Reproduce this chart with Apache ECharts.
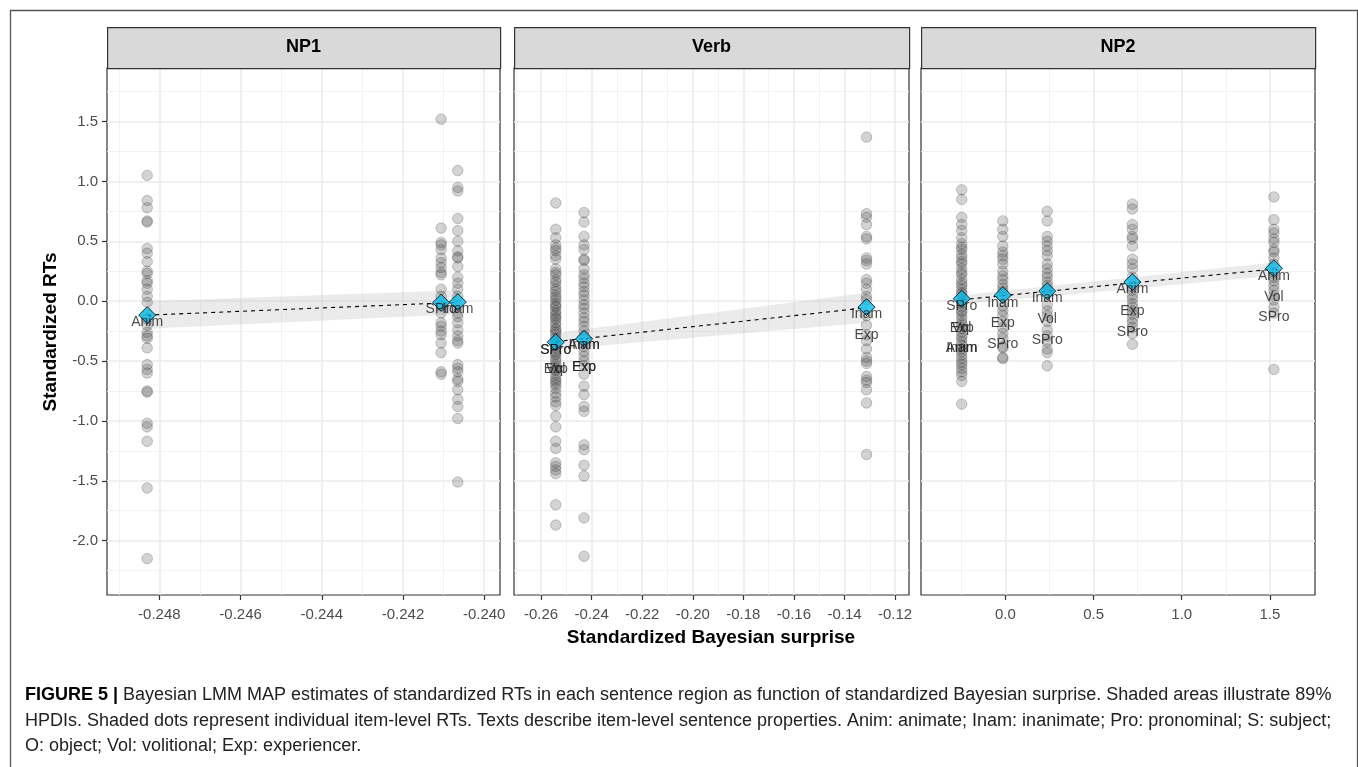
<!DOCTYPE html>
<html>
<head>
<meta charset="utf-8">
<script src="https://cdn.jsdelivr.net/npm/echarts@6/dist/echarts.min.js"></script>
<style>
html, body { margin: 0; padding: 0; background: #fff; }
#main { width: 1358px; height: 767px; }
</style>
</head>
<body>
<div id="main"></div>
<script>
// ---- panel names ----
var panelNames = ['NP1', 'Verb', 'NP2'];

// ---- axis ticks ----
var yTicks = [-2.0, -1.5, -1.0, -0.5, 0.0, 0.5, 1.0, 1.5];
var yMinor = [-2.25, -1.75, -1.25, -0.75, -0.25, 0.25, 0.75, 1.25, 1.75];
var np1XTicks = [-0.248, -0.246, -0.244, -0.242, -0.240];
var np1XMinor = [-0.249, -0.247, -0.245, -0.243, -0.241];
var verbXTicks = [-0.26, -0.24, -0.22, -0.20, -0.18, -0.16, -0.14, -0.12];
var verbXMinor = [-0.27, -0.25, -0.23, -0.21, -0.19, -0.17, -0.15, -0.13];
var np2XTicks = [0.0, 0.5, 1.0, 1.5];
var np2XMinor = [-0.25, 0.25, 0.75, 1.25];

// ---- item-level RTs (x = surprise of the condition, y = standardized RT) ----
var np1X = [-0.2483, -0.24106, -0.24065];
var np1Anim = [1.05, 0.84, 0.78, 0.67, 0.66, 0.44, 0.40, 0.33, 0.25, 0.23, 0.17, 0.15, 0.10, 0.04, -0.01, -0.11, -0.15, -0.20, -0.26, -0.29, -0.31, -0.39, -0.53, -0.57, -0.60, -0.75, -0.76, -1.02, -1.05, -1.17, -1.56, -2.15];
var np1SPro = [1.52, 0.61, 0.49, 0.47, 0.43, 0.36, 0.32, 0.28, 0.24, 0.22, 0.10, 0.04, -0.04, -0.10, -0.18, -0.21, -0.25, -0.28, -0.35, -0.43, -0.59, -0.61];
var np1Inam = [1.09, 0.95, 0.92, 0.69, 0.59, 0.50, 0.42, 0.37, 0.36, 0.29, 0.20, 0.15, 0.10, 0.04, -0.04, -0.10, -0.13, -0.18, -0.24, -0.29, -0.33, -0.35, -0.53, -0.56, -0.59, -0.65, -0.67, -0.74, -0.82, -0.88, -0.98, -1.51];

var verbX = [-0.2542, -0.2430, -0.1313];
var verbC1 = [0.82, 0.60, 0.53, 0.47, 0.44, 0.42, 0.38, 0.35, 0.27, 0.24, 0.22, 0.18, 0.16, 0.13, 0.10, 0.08, 0.05, 0.03, 0.01, -0.02, -0.04, -0.05, -0.08, -0.10, -0.12, -0.14, -0.15, -0.18, -0.20, -0.23, -0.24, -0.26, -0.28, -0.31, -0.33, -0.34, -0.36, -0.39, -0.42, -0.44, -0.45, -0.48, -0.50, -0.53, -0.55, -0.57, -0.58, -0.61, -0.64, -0.66, -0.68, -0.70, -0.73, -0.77, -0.80, -0.84, -0.87, -0.96, -1.05, -1.17, -1.23, -1.35, -1.38, -1.41, -1.44, -1.70, -1.87];
var verbC2 = [0.74, 0.66, 0.54, 0.47, 0.43, 0.35, 0.34, 0.27, 0.22, 0.19, 0.15, 0.12, 0.08, 0.05, 0.01, -0.03, -0.06, -0.10, -0.14, -0.17, -0.21, -0.25, -0.29, -0.38, -0.42, -0.46, -0.50, -0.54, -0.61, -0.71, -0.78, -0.88, -0.92, -1.20, -1.24, -1.37, -1.46, -1.81, -2.13];
var verbC3 = [1.37, 0.73, 0.70, 0.64, 0.54, 0.52, 0.36, 0.34, 0.31, 0.18, 0.15, 0.10, 0.04, 0.01, -0.12, -0.20, -0.28, -0.33, -0.40, -0.47, -0.50, -0.52, -0.63, -0.66, -0.68, -0.74, -0.85, -1.28];

var np2X = [-0.248, -0.015, 0.237, 0.720, 1.523];
var np2C1 = [0.93, 0.85, 0.70, 0.64, 0.59, 0.53, 0.48, 0.45, 0.43, 0.39, 0.36, 0.33, 0.31, 0.27, 0.24, 0.22, 0.18, 0.15, 0.13, 0.10, 0.07, 0.06, 0.03, 0.00, -0.02, -0.05, -0.08, -0.09, -0.12, -0.15, -0.18, -0.20, -0.23, -0.26, -0.29, -0.31, -0.34, -0.37, -0.40, -0.42, -0.45, -0.48, -0.51, -0.53, -0.56, -0.59, -0.62, -0.67, -0.86];
var np2C2 = [0.67, 0.60, 0.54, 0.46, 0.41, 0.38, 0.35, 0.31, 0.25, 0.21, 0.18, 0.14, 0.11, 0.08, 0.04, -0.04, -0.08, -0.12, -0.17, -0.22, -0.27, -0.31, -0.38, -0.39, -0.47, -0.48];
var np2C3 = [0.75, 0.67, 0.54, 0.50, 0.46, 0.42, 0.38, 0.31, 0.27, 0.23, 0.20, 0.16, 0.13, 0.10, 0.06, -0.03, -0.08, -0.12, -0.17, -0.24, -0.29, -0.34, -0.40, -0.43, -0.54];
var np2C4 = [0.81, 0.77, 0.64, 0.60, 0.54, 0.52, 0.46, 0.35, 0.31, 0.27, 0.20, 0.12, 0.09, 0.05, 0.02, -0.02, -0.05, -0.08, -0.11, -0.15, -0.18, -0.22, -0.27, -0.36];
var np2C5 = [0.87, 0.68, 0.60, 0.57, 0.52, 0.49, 0.43, 0.41, 0.36, 0.31, 0.24, 0.20, 0.17, 0.13, 0.09, 0.05, 0.01, -0.05, -0.10, -0.57];

// ---- MAP estimates per condition ----
var np1MeanY = [-0.117, -0.013, -0.008];
var verbMeanY = [-0.343, -0.315, -0.050];
var np2MeanY = [0.020, 0.050, 0.084, 0.159, 0.274];

// ---- fitted line ends [x, y] and 89% HPDI band [x, lo, hi] ----
var np1Fit = [[-0.2483, -0.117], [-0.24065, -0.010]];
var verbFit = [[-0.2542, -0.338], [-0.1313, -0.055]];
var np2Fit = [[-0.248, 0.012], [1.523, 0.268]];
var np1Band = [[-0.2483, -0.230, 0.000], [-0.24065, -0.110, 0.090]];
var verbBand = [[-0.2542, -0.404, -0.265], [-0.1313, -0.180, 0.070]];
var np2Band = [[-0.248, -0.025, 0.050], [1.523, 0.212, 0.322]];

// ---- sentence-property texts [x, y, text] ----
var np1Texts = [[-0.2483, -0.176, 'Anim'], [-0.24106, -0.070, 'SPro'], [-0.24065, -0.065, 'Inam']];
var verbTexts = [
    [-0.2542, -0.410, 'SPro'], [-0.2542, -0.410, 'SPro'], [-0.2542, -0.570, 'Exp'], [-0.2542, -0.570, 'Vol'],
    [-0.2430, -0.370, 'Inam'], [-0.2430, -0.370, 'Anim'], [-0.2430, -0.550, 'Exp'], [-0.2430, -0.550, 'Exp'],
    [-0.1313, -0.105, 'Inam'], [-0.1313, -0.284, 'Exp']
];
var np2Texts = [
    [-0.248, -0.042, 'SPro'], [-0.248, -0.223, 'Exp'], [-0.248, -0.223, 'Vol'], [-0.248, -0.396, 'Anim'], [-0.248, -0.396, 'Inam'],
    [-0.015, -0.013, 'Inam'], [-0.015, -0.187, 'Exp'], [-0.015, -0.357, 'SPro'],
    [0.237, 0.023, 'Inam'], [0.237, -0.153, 'Vol'], [0.237, -0.326, 'SPro'],
    [0.720, 0.098, 'Anim'], [0.720, -0.083, 'Exp'], [0.720, -0.256, 'SPro'],
    [1.523, 0.209, 'Anim'], [1.523, 0.037, 'Vol'], [1.523, -0.134, 'SPro']
];

var FONT = 'Liberation Sans, Arial, sans-serif';

var panels = [
    { left: 107, width: 393, xMin: -0.24929, xMax: -0.23961, ticks: np1XTicks, minor: np1XMinor, dec: 3,
      xs: np1X, ys: [np1Anim, np1SPro, np1Inam], means: np1MeanY, fit: np1Fit, band: np1Band, texts: np1Texts },
    { left: 514, width: 395, xMin: -0.2707, xMax: -0.1145, ticks: verbXTicks, minor: verbXMinor, dec: 2,
      xs: verbX, ys: [verbC1, verbC2, verbC3], means: verbMeanY, fit: verbFit, band: verbBand, texts: verbTexts },
    { left: 921, width: 394, xMin: -0.479, xMax: 1.756, ticks: np2XTicks, minor: np2XMinor, dec: 1,
      xs: np2X, ys: [np2C1, np2C2, np2C3, np2C4, np2C5], means: np2MeanY, fit: np2Fit, band: np2Band, texts: np2Texts }
];
var TOP = 68, HEIGHT = 527, Y_MIN = -2.454, Y_MAX = 1.947;

function bandRenderer(rows) {
    return function (params, api) {
        if (params.dataIndex !== 0) return;
        var upper = rows.map(function (r) { return api.coord([r[0], r[2]]); });
        var lower = rows.map(function (r) { return api.coord([r[0], r[1]]); }).reverse();
        return {
            type: 'polygon',
            shape: { points: upper.concat(lower) },
            style: { fill: 'rgba(175,175,175,0.25)' }
        };
    };
}

var grids = [], xAxes = [], yAxes = [], series = [], graphics = [];

panels.forEach(function (p, i) {
    grids.push({ left: p.left, top: TOP, width: p.width, height: HEIGHT, show: true,
        borderColor: '#333', borderWidth: 1.2, backgroundColor: 'transparent' });

    // main x axis
    xAxes.push({
        type: 'value', gridIndex: i, min: p.xMin, max: p.xMax, position: 'bottom',
        axisLine: { show: false, onZero: false },
        axisTick: { show: true, length: 5, customValues: p.ticks, lineStyle: { color: '#333', width: 1.2 } },
        axisLabel: { customValues: p.ticks, color: '#4d4d4d', fontSize: 15, fontFamily: FONT, margin: 12,
            formatter: (function (d) { return function (v) { return v.toFixed(d); }; })(p.dec) },
        splitLine: { show: true, lineStyle: { color: '#ebebeb', width: 1.6 } }
    });
    // minor x grid
    xAxes.push({
        type: 'value', gridIndex: i, min: p.xMin, max: p.xMax,
        axisLine: { show: false, onZero: false }, axisLabel: { show: false },
        axisTick: { show: false, customValues: p.minor },
        splitLine: { show: true, lineStyle: { color: '#f0f0f0', width: 0.9 } }
    });
    // main y axis
    yAxes.push({
        type: 'value', gridIndex: i, min: Y_MIN, max: Y_MAX, position: 'left',
        axisLine: { show: false, onZero: false },
        axisTick: { show: i === 0, length: 5, customValues: yTicks, lineStyle: { color: '#333', width: 1.2 } },
        axisLabel: { show: i === 0, customValues: yTicks, color: '#4d4d4d', fontSize: 15, fontFamily: FONT, margin: 9,
            formatter: function (v) { return v.toFixed(1); } },
        splitLine: { show: true, lineStyle: { color: '#ebebeb', width: 1.6 } }
    });
    // minor y grid
    yAxes.push({
        type: 'value', gridIndex: i, min: Y_MIN, max: Y_MAX, position: 'right',
        axisLine: { show: false, onZero: false }, axisLabel: { show: false },
        axisTick: { show: false, customValues: yMinor },
        splitLine: { show: true, lineStyle: { color: '#f0f0f0', width: 0.9 } }
    });

    var xi = 2 * i, yi = 2 * i;

    series.push({
        type: 'custom', xAxisIndex: xi, yAxisIndex: yi, z: 2, silent: true,
        renderItem: bandRenderer(p.band), data: p.band
    });

    var pts = [];
    p.ys.forEach(function (arr, k) {
        arr.forEach(function (v) { pts.push([p.xs[k], v]); });
    });
    series.push({
        type: 'scatter', xAxisIndex: xi, yAxisIndex: yi, z: 3, silent: true,
        symbol: 'circle', symbolSize: 10.5,
        itemStyle: { color: 'rgba(70,70,70,0.24)', borderColor: 'rgba(40,40,40,0.3)', borderWidth: 0.8, opacity: 1 },
        data: pts
    });

    series.push({
        type: 'line', xAxisIndex: xi, yAxisIndex: yi, z: 4, silent: true,
        showSymbol: false, symbol: 'none',
        lineStyle: { color: '#000', width: 1.1, type: [4, 4] },
        data: p.fit
    });

    series.push({
        type: 'scatter', xAxisIndex: xi, yAxisIndex: yi, z: 5, silent: true,
        symbol: 'diamond', symbolSize: 17,
        itemStyle: { color: '#0abdeb', borderColor: '#000', borderWidth: 1 },
        data: p.xs.map(function (x, k) { return [x, p.means[k]]; })
    });

    series.push({
        type: 'scatter', xAxisIndex: xi, yAxisIndex: yi, z: 6, silent: true,
        symbolSize: 1, itemStyle: { color: 'transparent' },
        label: { show: true, position: 'inside', formatter: '{b}', color: '#1a1a1a',
            textBorderWidth: 0, fontSize: 14, fontFamily: FONT },
        labelLayout: { hideOverlap: false },
        data: p.texts.map(function (t) { return { name: t[2], value: [t[0], t[1]] }; })
    });

    // strip header
    graphics.push({
        type: 'rect', left: p.left, top: 27, z: 10,
        shape: { width: p.width, height: 41 },
        style: { fill: '#d9d9d9', stroke: '#333', lineWidth: 1.2 }
    });
    graphics.push({
        type: 'text', x: p.left + p.width / 2, y: 47.5, z: 11,
        style: { text: panelNames[i], fill: '#000', font: 'bold 18px ' + FONT,
            textAlign: 'center', textVerticalAlign: 'middle' }
    });
});

// outer frame, axis titles and caption
graphics.push({
    type: 'rect', left: 8, top: 8, z: 0,
    shape: { width: 1347, height: 780 },
    style: { fill: 'none', stroke: '#555', lineWidth: 1.3 }
});
graphics.push({
    type: 'text', x: 711, y: 638, z: 11,
    style: { text: 'Standardized Bayesian surprise', fill: '#000', font: 'bold 19px ' + FONT,
        textAlign: 'center', textVerticalAlign: 'middle' }
});
graphics.push({
    type: 'text', x: 51, y: 332, rotation: Math.PI / 2, z: 11,
    style: { text: 'Standardized RTs', fill: '#000', font: 'bold 19px ' + FONT,
        textAlign: 'center', textVerticalAlign: 'middle' }
});

var captionLines = [
    'Bayesian LMM MAP estimates of standardized RTs in each sentence region as function of standardized Bayesian surprise. Shaded areas illustrate 89%',
    'HPDIs. Shaded dots represent individual item-level RTs. Texts describe item-level sentence properties. Anim: animate; Inam: inanimate; Pro: pronominal; S: subject;',
    'O: object; Vol: volitional; Exp: experiencer.'
];
var captionY = [695, 721, 746];
captionLines.forEach(function (line, k) {
    graphics.push({
        type: 'text', x: 25, y: captionY[k], z: 11,
        style: {
            text: (k === 0 ? '{b|FIGURE 5 |} ' : '') + line,
            rich: { b: { font: 'bold 18px ' + FONT, fill: '#000' } },
            fill: '#222', font: '18px ' + FONT,
            textAlign: 'left', textVerticalAlign: 'middle'
        }
    });
});

var myChart = echarts.init(document.getElementById('main'), null, { renderer: 'canvas' });
var option = {
    animation: false,
    backgroundColor: '#fff',
    grid: grids,
    xAxis: xAxes,
    yAxis: yAxes,
    series: series,
    graphic: graphics
};
myChart.setOption(option);
</script>
</body>
</html>
